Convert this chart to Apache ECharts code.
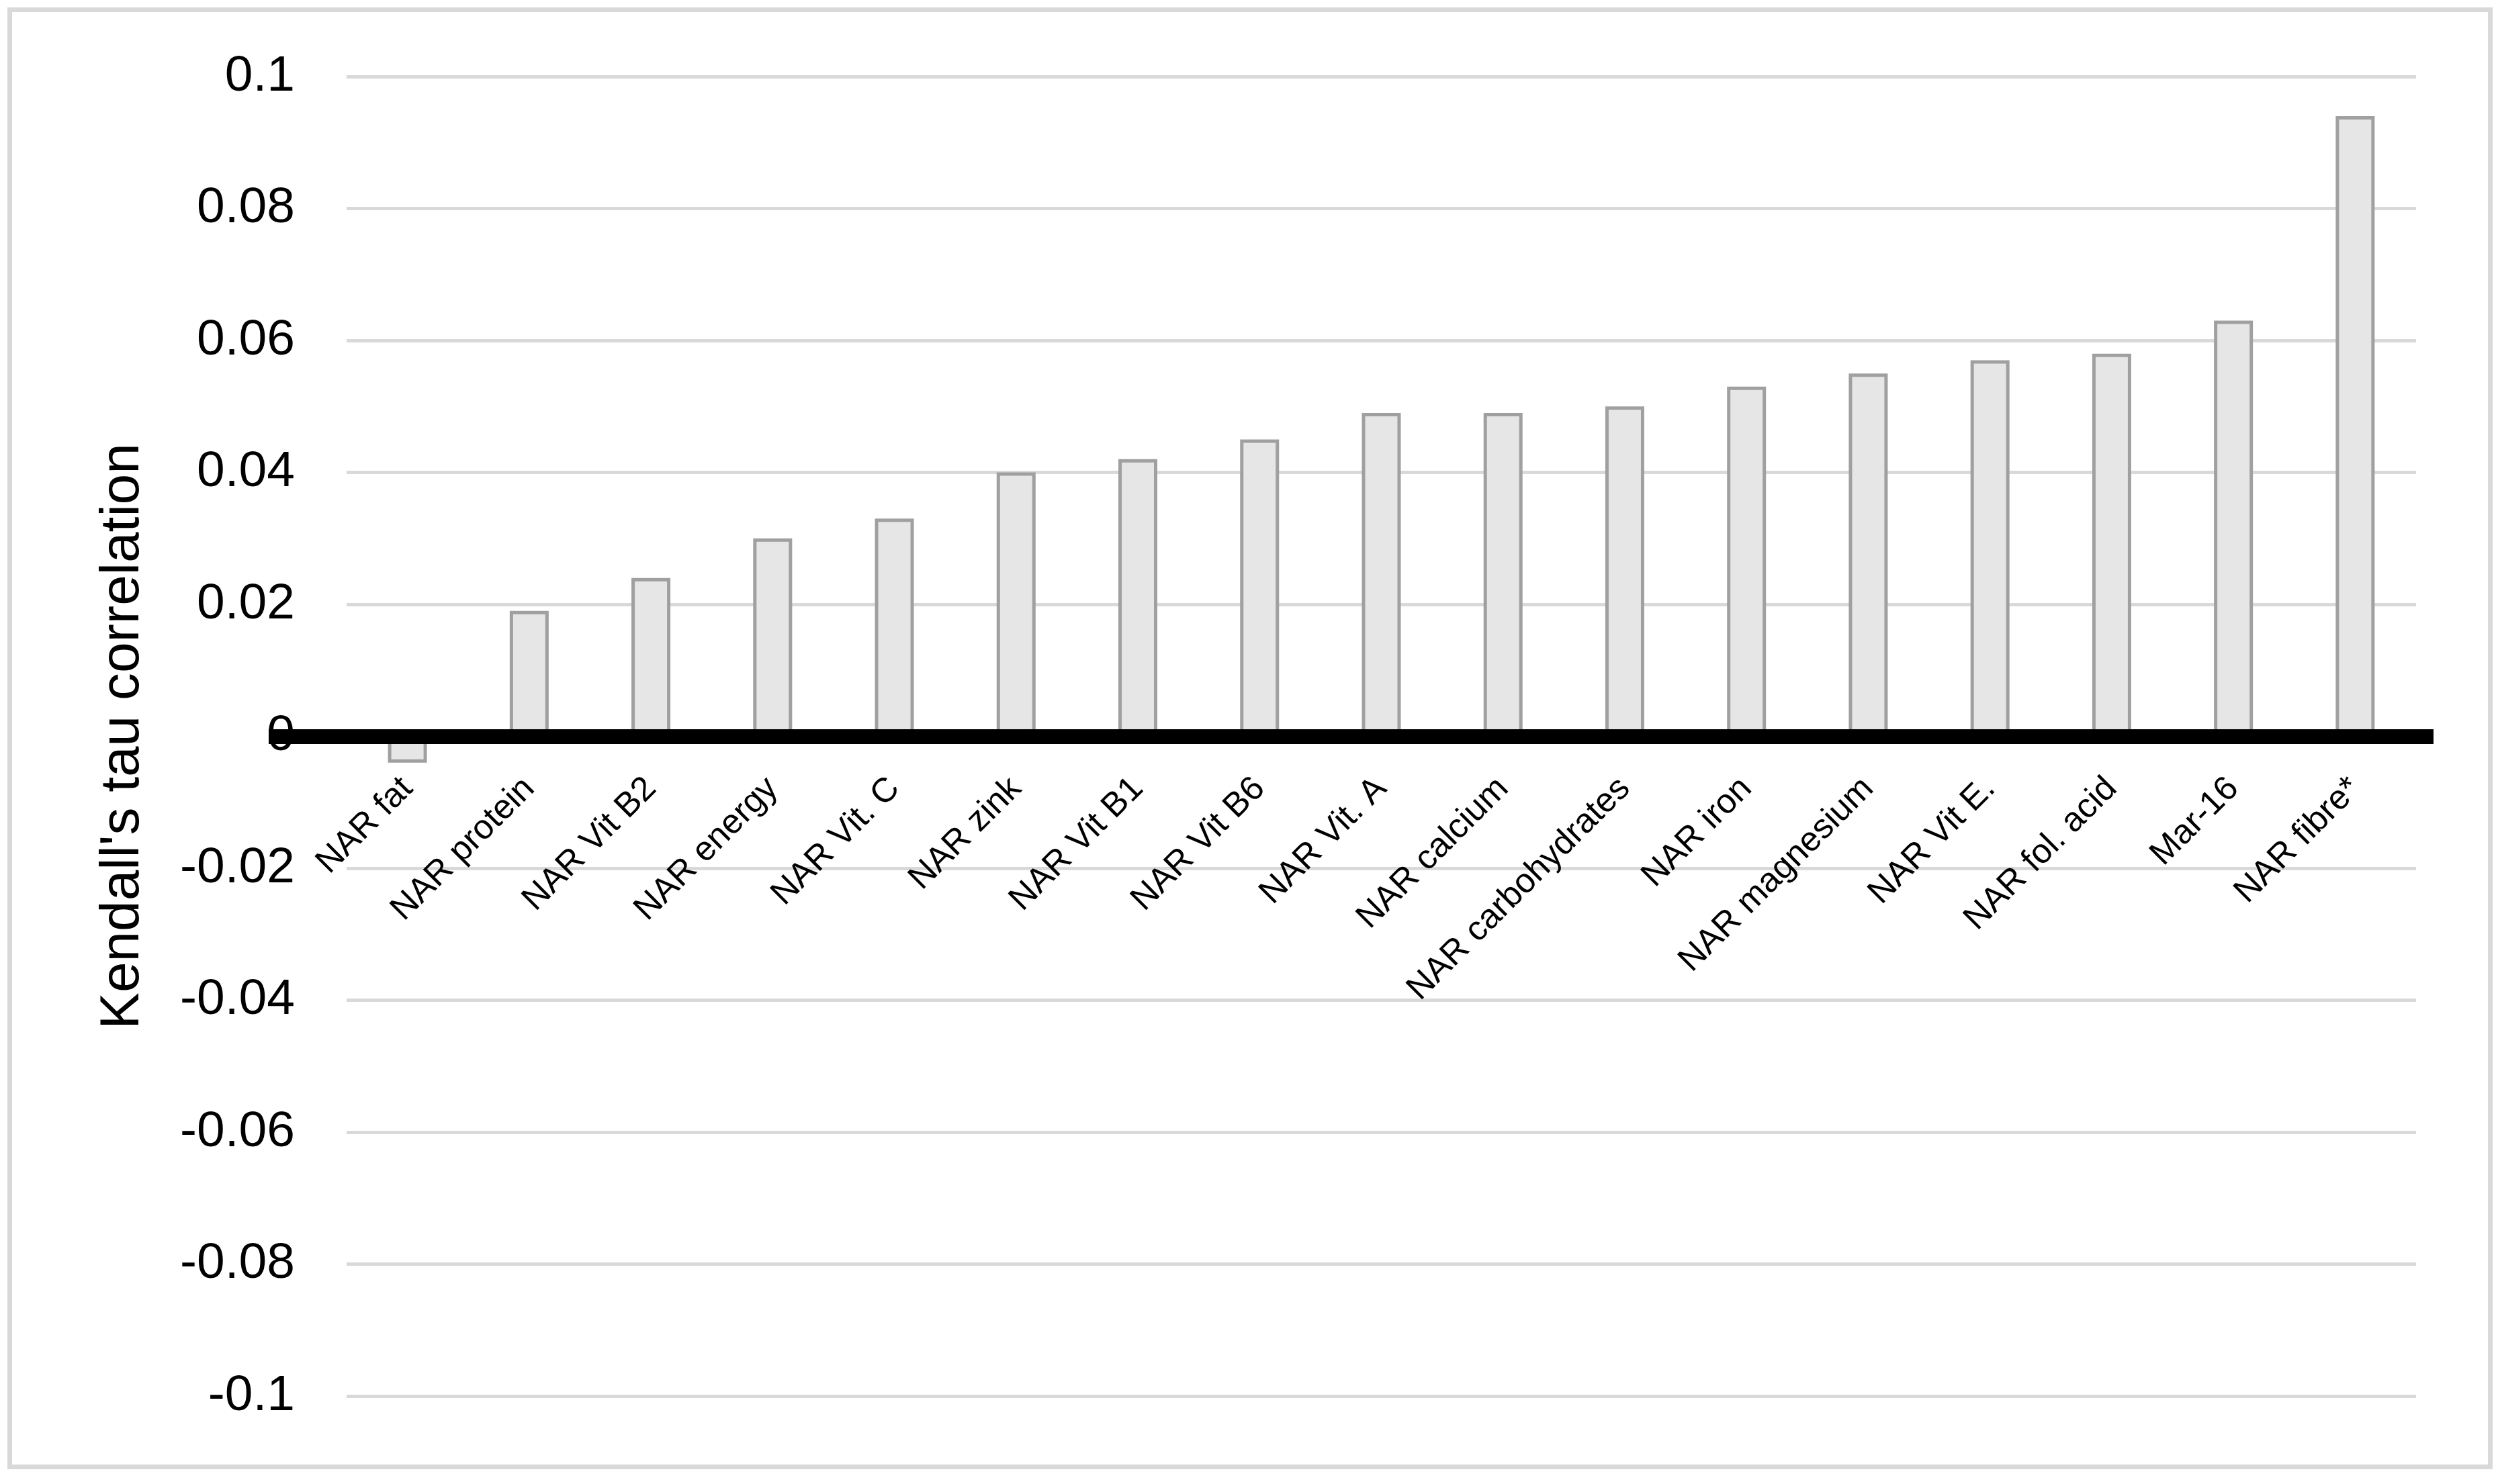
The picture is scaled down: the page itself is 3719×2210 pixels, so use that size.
<!DOCTYPE html>
<html>
<head>
<meta charset="utf-8">
<script src="https://cdn.jsdelivr.net/npm/echarts@6/dist/echarts.min.js"></script>
<style>
html,body{margin:0;padding:0;background:#fff;}
#chart{width:3719px;height:2210px;}
</style>
</head>
<body>
<div id="chart"></div>
<script>
const categories = ['NAR fat','NAR protein','NAR Vit B2','NAR energy','NAR Vit. C','NAR zink','NAR Vit B1','NAR Vit B6','NAR Vit. A','NAR calcium','NAR carbohydrates','NAR iron','NAR magnesium','NAR Vit E.','NAR fol. acid','Mar-16','NAR fibre*'];
const tauValues = [-0.004,0.019,0.024,0.030,0.033,0.040,0.042,0.045,0.049,0.049,0.050,0.053,0.055,0.057,0.058,0.063,0.094];
const yTitle = "Kendall's tau correlation";
const yMin = -0.1, yMax = 0.1, yStep = 0.02;

const FONT = 'Liberation Sans, Arial, sans-serif';
const GRID_TOP = 114, GRID_BOTTOM = 131, H = 2210;
const zeroOffset = -((H - GRID_TOP - GRID_BOTTOM) * (0 - yMin) / (yMax - yMin));

const chart = echarts.init(document.getElementById('chart'), null, {renderer:'canvas'});
chart.setOption({
  backgroundColor:'#ffffff',
  animation:false,
  graphic:[{
    type:'rect', left:11, top:11, z:0,
    shape:{width:3693, height:2170},
    style:{fill:'none', stroke:'#d9d9d9', lineWidth:7}
  }],
  grid:[
    {left:516, right:122, top:GRID_TOP, bottom:GRID_BOTTOM, containLabel:false, outerBoundsMode:'none'},
    {left:400, right:96, top:GRID_TOP, bottom:GRID_BOTTOM, containLabel:false, outerBoundsMode:'none'}
  ],
  xAxis:[
    {type:'category', gridIndex:0, data:categories, position:'bottom', offset:zeroOffset,
     axisLine:{show:true, onZero:false, lineStyle:{color:'#000', width:22, cap:'butt'}},
     axisTick:{show:false},
     axisLabel:{rotate:45, fontSize:51, color:'#000', fontFamily:FONT, margin:70, interval:0, hideOverlap:false},
     splitLine:{show:false}, z:5},
    {type:'category', gridIndex:1, data:[''],
     axisLine:{show:true, onZero:true, lineStyle:{color:'#000', width:22, cap:'butt'}},
     axisTick:{show:false}, axisLabel:{show:false}, splitLine:{show:false}, z:6}
  ],
  yAxis:[
    {type:'value', gridIndex:0, min:yMin, max:yMax, interval:yStep,
     axisLine:{show:false}, axisTick:{show:false},
     axisLabel:{fontSize:75, color:'#000', fontFamily:FONT, margin:77},
     splitLine:{show:true, lineStyle:{color:'#d9d9d9', width:5}},
     name:yTitle, nameLocation:'middle', nameGap:292,
     nameTextStyle:{fontSize:82, color:'#000', fontFamily:FONT}},
    {type:'value', gridIndex:1, min:yMin, max:yMax, interval:yStep, show:false}
  ],
  series:[{
    type:'bar', xAxisIndex:0, yAxisIndex:0, data:tauValues, barWidth:58,
    itemStyle:{color:'#e6e6e6', borderColor:'#a0a0a0', borderWidth:5},
    z:2
  }]
});
</script>
</body>
</html>
